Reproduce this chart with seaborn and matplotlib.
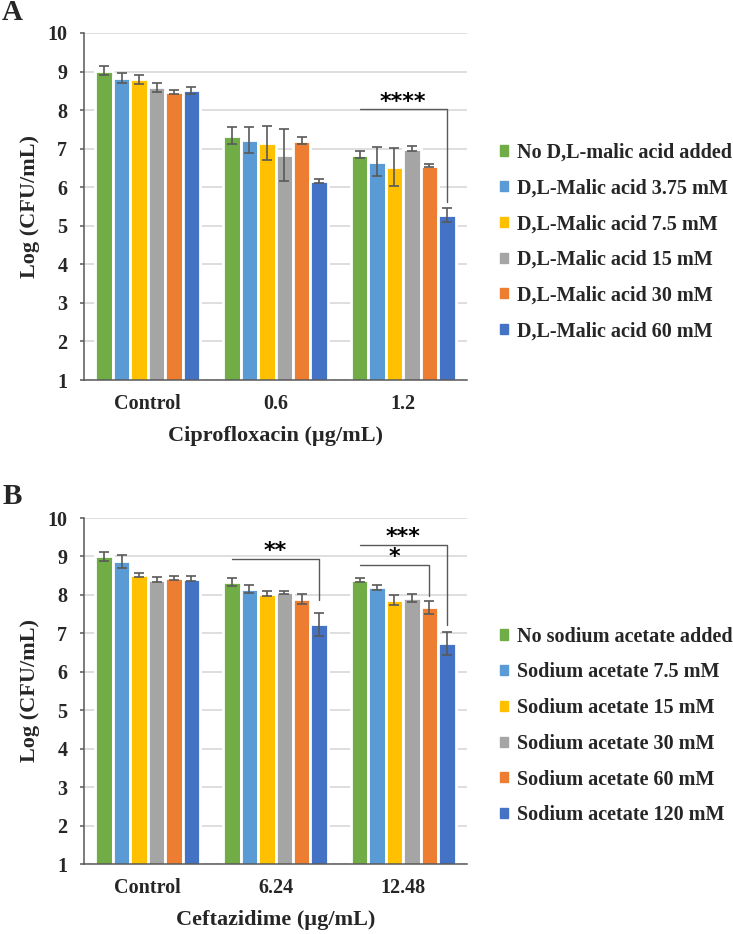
import matplotlib
matplotlib.use("Agg")
import matplotlib.pyplot as plt
import matplotlib.patches as mpatches
import seaborn as sns
import pandas as pd

# data (mean log CFU/mL and error bar half-widths)
colors = ["#70AD47", "#5B9BD5", "#FFC000", "#A5A5A5", "#ED7D31", "#4472C4"]

cipro_groups = ["Control", "0.6", "1.2"]
malic_labels = ["No D,L-malic acid added", "D,L-Malic acid 3.75 mM", "D,L-Malic acid 7.5 mM",
                "D,L-Malic acid 15 mM", "D,L-Malic acid 30 mM", "D,L-Malic acid 60 mM"]
malic_means = [[9.02, 8.83, 8.80, 8.59, 8.48, 8.51],
               [7.34, 7.23, 7.15, 6.84, 7.21, 6.16],
               [6.84, 6.66, 6.52, 7.00, 6.56, 5.28]]
malic_err = [[0.12, 0.13, 0.12, 0.11, 0.05, 0.08],
             [0.23, 0.33, 0.45, 0.67, 0.08, 0.05],
             [0.09, 0.38, 0.49, 0.07, 0.04, 0.17]]
# (group, from hue, to hue, bracket height, drop end, label)
malic_sig = [(2, 0, 5, 8.03, 5.62, "****")]

cefta_groups = ["Control", "6.24", "12.48"]
acetate_labels = ["No sodium acetate added", "Sodium acetate 7.5 mM", "Sodium acetate 15 mM",
                  "Sodium acetate 30 mM", "Sodium acetate 60 mM", "Sodium acetate 120 mM"]
acetate_means = [[9.00, 8.88, 8.52, 8.40, 8.43, 8.42],
                 [8.33, 8.15, 8.03, 8.07, 7.90, 7.23],
                 [8.38, 8.20, 7.88, 7.92, 7.68, 6.74]]
acetate_err = [[0.12, 0.17, 0.05, 0.07, 0.05, 0.06],
               [0.10, 0.10, 0.06, 0.04, 0.13, 0.30],
               [0.05, 0.07, 0.13, 0.10, 0.17, 0.30]]
acetate_sig = [(1, 0, 5, 8.94, 7.88, "**"),
               (2, 0, 5, 9.31, 7.21, "***"),
               (2, 0, 4, 8.79, 7.96, "*")]

sns.set_style("white")
plt.rcParams["font.family"] = ["Liberation Serif", "DejaVu Serif"]
plt.rcParams["font.weight"] = "bold"

fig = plt.figure(figsize=(7.33, 9.34), dpi=100)
W, H = 733, 934
axA = fig.add_axes([84 / W, 1 - 380 / H, 383 / W, 347 / H])
axB = fig.add_axes([84 / W, 1 - 864 / H, 383 / W, 346 / H])

dark = "#595959"


def panel(ax, groups, labels, means, errs, sigs, xlabel, leg_y):
    rows = []
    for gi, g in enumerate(groups):
        for hi, lab in enumerate(labels):
            rows.append({"group": g, "treat": lab, "value": means[gi][hi]})
    df = pd.DataFrame(rows)
    sns.barplot(data=df, x="group", y="value", hue="treat", order=groups, hue_order=labels,
                palette=colors, errorbar=None, width=0.82, edgecolor="white",
                linewidth=2.0, saturation=1, ax=ax, zorder=2)
    if ax.get_legend() is not None:
        ax.get_legend().remove()
    bars = list(ax.containers)

    # error bars at the bar centres
    for hi, cont in enumerate(bars):
        for gi, bar in enumerate(cont):
            x = bar.get_x() + bar.get_width() / 2
            ax.errorbar(x, means[gi][hi], yerr=errs[gi][hi], fmt="none", ecolor=dark,
                        elinewidth=1.2, capsize=3.6, capthick=1.2, zorder=3)

    # significance brackets
    for gi, h0, h1, yb, yd, txt in sigs:
        b0 = bars[h0][gi]
        b1 = bars[h1][gi]
        x0 = b0.get_x() + b0.get_width() / 2
        x1 = b1.get_x() + b1.get_width() / 2
        ax.plot([x0, x1, x1], [yb, yb, yd], color=dark, lw=1.0, zorder=4)
        ax.annotate(txt, xy=((x0 + x1) / 2, yb), xytext=(0, 1), textcoords="offset points",
                    ha="center", va="baseline", fontsize=16, fontweight="bold",
                    family="DejaVu Sans", color="black")

    ax.set_ylim(1, 10)
    ax.set_xlim(-0.5, len(groups) - 0.5)
    ax.set_yticks(range(1, 11))
    ax.grid(axis="y", color="#D9D9D9", lw=1.2)
    ax.set_axisbelow(True)
    for s in ["top", "right"]:
        ax.spines[s].set_visible(False)
    for s in ["left", "bottom"]:
        ax.spines[s].set_color(dark)
        ax.spines[s].set_linewidth(1.1)

    ax.set_xticks(range(len(groups)))
    ax.set_xticklabels(groups)
    ax.set_xticks([i - 0.5 for i in range(len(groups) + 1)], minor=True)
    ax.tick_params(axis="x", which="major", length=0, pad=10, labelsize=14.5)
    ax.tick_params(axis="x", which="minor", length=4, width=1.1, color=dark, direction="out")
    ax.tick_params(axis="y", which="major", length=3, width=1.1, color=dark, pad=9,
                   labelsize=14.5, left=True)

    ax.set_xlabel(xlabel, fontsize=16, fontweight="bold")
    ax.xaxis.set_label_coords(0.5, -56 / 347)
    ax.xaxis.label.set_verticalalignment("center")
    ax.set_ylabel("Log (CFU/mL)", fontsize=16, fontweight="bold")
    ax.yaxis.set_label_coords(-54 / 383, 0.5)
    ax.yaxis.label.set_verticalalignment("center")

    handles = [mpatches.Patch(color=c) for c in colors]
    fig.legend(handles, labels, loc="center left", bbox_to_anchor=(500 / W, leg_y),
               frameon=False, fontsize=14.5, handlelength=0.4, handleheight=0.4,
               handletextpad=0.45, labelspacing=0.78, borderpad=0, borderaxespad=0)


panel(axA, cipro_groups, malic_labels, malic_means, malic_err, malic_sig,
      "Ciprofloxacin (µg/mL)", 1 - 242 / H)
panel(axB, cefta_groups, acetate_labels, acetate_means, acetate_err, acetate_sig,
      "Ceftazidime (µg/mL)", 1 - 726 / H)

fig.text(2 / W, 1 - 13 / H, "A", fontsize=21, fontweight="bold", va="center", ha="left")
fig.text(3 / W, 1 - 496 / H, "B", fontsize=21, fontweight="bold", va="center", ha="left")

fig.savefig("out.png", dpi=100)
